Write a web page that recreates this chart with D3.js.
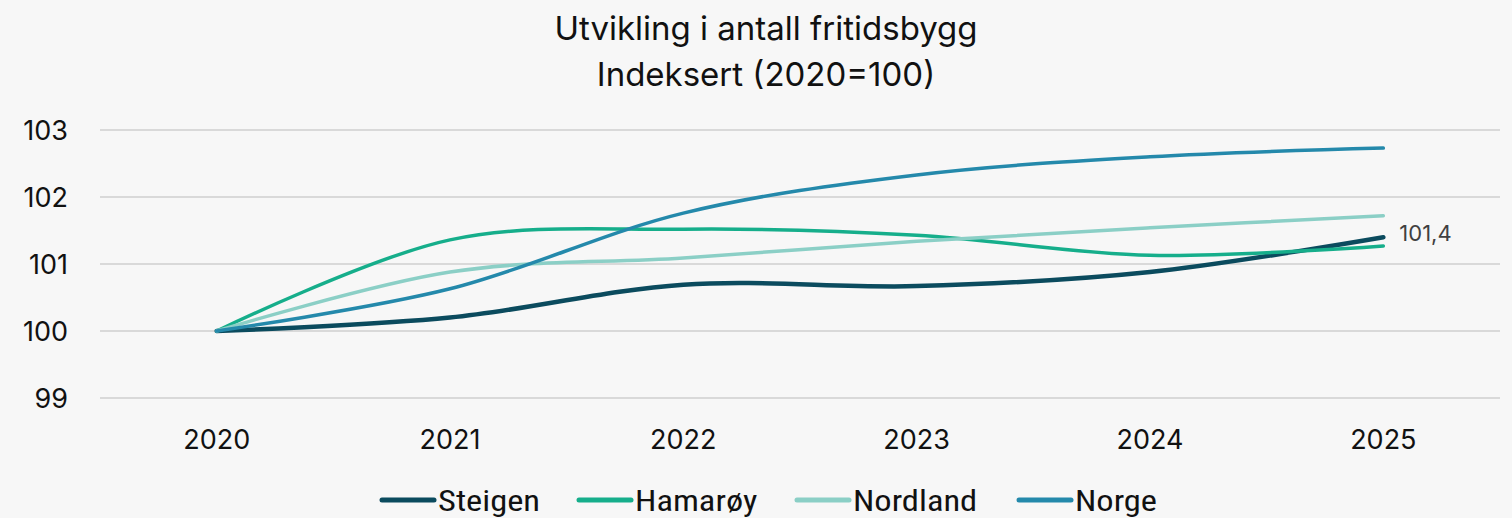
<!DOCTYPE html>
<html>
<head>
<meta charset="utf-8">
<script src="https://cdn.jsdelivr.net/npm/d3@7"></script>
<style>
  html, body { margin: 0; padding: 0; background: #f7f7f7; }
  svg { display: block; }
</style>
</head>
<body>
<svg id="chart" width="1512" height="518"></svg>
<script>
// Index values, 2020 = 100
const years = ["2020", "2021", "2022", "2023", "2024", "2025"];
const steigen  = [100, 100.20, 100.69, 100.67, 100.88, 101.4];
const hamaroy  = [100, 101.36, 101.52, 101.43, 101.13, 101.27];
const nordland = [100, 100.88, 101.09, 101.34, 101.54, 101.72];
const norge    = [100, 100.63, 101.76, 102.33, 102.60, 102.73];
const yTicks = [99, 100, 101, 102, 103];

const series = [
  { name: "Steigen",  values: steigen,  color: "#0b4b5e", width: 4.5 },
  { name: "Hamarøy",  values: hamaroy,  color: "#16ae8b", width: 3.5 },
  { name: "Nordland", values: nordland, color: "#8bcfc6", width: 3.5 },
  { name: "Norge",    values: norge,    color: "#2489ab", width: 3.5 }
];

const svg = d3.select("#chart");
const W = 1512, H = 518;
const plot = { left: 100, right: 1500, top: 130, bottom: 398 };
const baseFont = "Inter, 'Open Sans', sans-serif";

const x = d3.scaleBand().domain(years).range([plot.left, plot.right]);
const y = d3.scaleLinear().domain([99, 103]).range([plot.bottom, plot.top]);
const cx = d => x(d) + x.bandwidth() / 2;

svg.append("rect").attr("width", W).attr("height", H).attr("fill", "#f7f7f7");

// Title
const title = svg.append("text")
  .attr("x", 766).attr("text-anchor", "middle")
  .attr("font-family", baseFont)
  .attr("font-size", 33).attr("fill", "#111");
title.append("tspan").attr("x", 766).attr("y", 40).text("Utvikling i antall fritidsbygg");
title.append("tspan").attr("x", 766).attr("y", 86).text("Indeksert (2020=100)");

// Gridlines
svg.append("g")
  .selectAll("line").data(yTicks).join("line")
  .attr("x1", plot.left).attr("x2", plot.right)
  .attr("y1", d => y(d)).attr("y2", d => y(d))
  .attr("stroke", "#d9d9d9").attr("stroke-width", 2);

// Y axis labels
const yAxis = svg.append("g")
  .attr("transform", `translate(${plot.left - 32},0)`)
  .call(d3.axisLeft(y).tickValues(yTicks).tickSize(0).tickPadding(0).tickFormat(d3.format("d")));
yAxis.select(".domain").remove();
yAxis.selectAll("text")
  .attr("font-family", baseFont)
  .attr("font-size", 27).attr("fill", "#111").attr("dy", "0.35em");

// X axis labels
const xAxis = svg.append("g")
  .attr("transform", `translate(0,${plot.bottom + 42})`)
  .call(d3.axisBottom(x).tickSize(0).tickPadding(0));
xAxis.select(".domain").remove();
xAxis.selectAll("text")
  .attr("font-family", baseFont)
  .attr("font-size", 27).attr("fill", "#111").attr("dy", "0.35em");

// Lines
const line = d3.line()
  .x((d, i) => cx(years[i]))
  .y(d => y(d))
  .curve(d3.curveCatmullRom.alpha(0.5));

svg.append("g")
  .selectAll("path").data(series).join("path")
  .attr("d", d => line(d.values))
  .attr("fill", "none")
  .attr("stroke", d => d.color)
  .attr("stroke-width", d => d.width)
  .attr("stroke-linecap", "round")
  .attr("stroke-linejoin", "round");

// End value label for Steigen
const last = steigen.length - 1;
svg.append("text")
  .attr("x", cx(years[last]) + 16)
  .attr("y", y(steigen[last]) - 4)
  .attr("dy", "0.35em")
  .attr("font-family", baseFont)
  .attr("font-size", 22).attr("fill", "#404040")
  .text(d3.format(".1f")(steigen[last]).replace(".", ","));

// Legend
const legendX = [380, 577, 795, 1017];
const lg = svg.append("g").selectAll("g").data(series).join("g")
  .attr("transform", (d, i) => `translate(${legendX[i]},500)`);
lg.append("line")
  .attr("x1", 2).attr("x2", 54).attr("y1", 0).attr("y2", 0)
  .attr("stroke", d => d.color).attr("stroke-width", 5).attr("stroke-linecap", "round");
lg.append("text")
  .attr("transform", "translate(58,0) scale(1.15,1)")
  .attr("dy", "0.35em")
  .attr("font-family", "'Liberation Sans Narrow', 'Roboto Condensed', sans-serif")
  .attr("font-size", 30).attr("fill", "#111")
  .text(d => d.name);
</script>
</body>
</html>
